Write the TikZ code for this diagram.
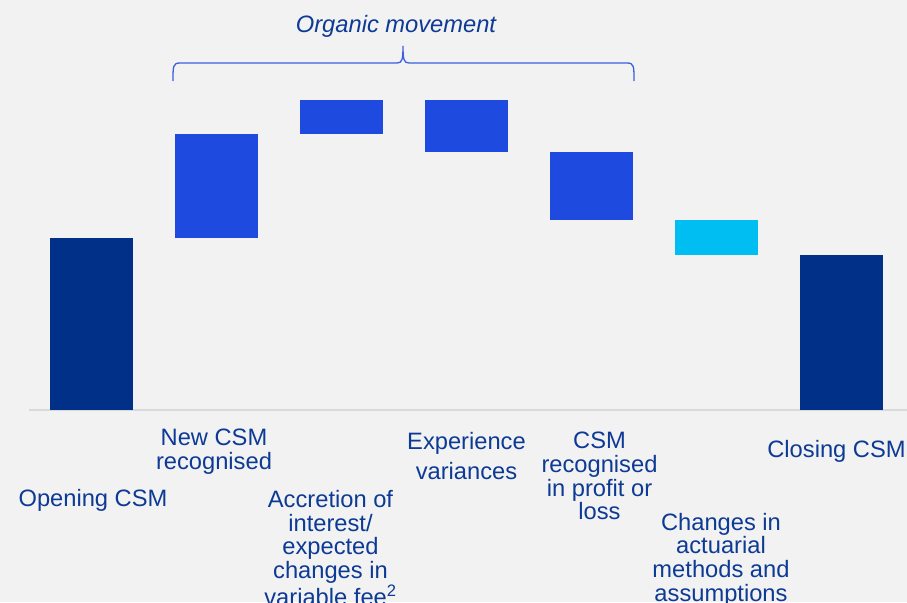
\documentclass[tikz,border=0pt]{standalone}
\usepackage{fontspec}
\setmainfont{Liberation Sans}
\definecolor{csmnavy}{HTML}{003087}
\definecolor{csmblue}{HTML}{1F4AE0}
\definecolor{csmcyan}{HTML}{00BEF2}
\definecolor{csmtext}{HTML}{0D3A94}
\definecolor{csmback}{HTML}{F2F2F2}
\definecolor{csmaxis}{HTML}{D9D9D9}
\definecolor{csmbrace}{HTML}{3A5FE0}
\tikzset{
    bar/.style={anchor=north west, minimum width=83pt, inner sep=0pt, outer sep=0pt},
    lbl/.style={anchor=north, align=center, inner sep=0pt, text=csmtext, font=\fontsize{23.7}{23.8}\selectfont},
}
\begin{document}
\begin{tikzpicture}[x=1pt,y=-1pt]
    \fill[csmback] (0,0) rectangle (907,602);
    \useasboundingbox (0,0) rectangle (907,602);
    \clip (0,0) rectangle (907,602);
    \coordinate (axl) at (29,410);
    \coordinate (axr) at (907,410);
    \draw[csmaxis, line width=1.5pt] (axl) -- (axr);
    \node[bar, fill=csmnavy, minimum height=172pt] (open) at (50,238) {};
    \node[bar, fill=csmblue, minimum height=104pt] (newcsm) at (175,134) {};
    \node[bar, fill=csmblue, minimum height=34pt] (accr) at (300,100) {};
    \node[bar, fill=csmblue, minimum height=52pt] (exper) at (425,100) {};
    \node[bar, fill=csmblue, minimum height=68pt] (pnl) at (550,152) {};
    \node[bar, fill=csmcyan, minimum height=35pt] (actu) at (675,220) {};
    \node[bar, fill=csmnavy, minimum height=155pt] (close) at (800,255) {};
    \node[lbl] (lopen) at (93,489) {Opening CSM};
    \node[lbl] (lnew) at (214,429) {New CSM\\recognised};
    \node[lbl] (laccr) at (330.5,490) {Accretion of\\interest/\\expected\\changes in\\variable fee\textsuperscript{2}};
    \node[lbl, font=\fontsize{23.7}{30}\selectfont] (lexper) at (466.5,432) {Experience\\variances};
    \node[lbl] (lpnl) at (599.5,431.7) {CSM\\recognised\\in profit or\\loss};
    \node[lbl] (lactu) at (721,512.7) {Changes in\\actuarial\\methods and\\assumptions};
    \node[lbl] (lclose) at (836.5,440) {Closing CSM};
    \node[lbl, font=\fontsize{23.7}{23.8}\selectfont\itshape] (organic) at (396,15) {Organic movement};
    \draw[csmbrace, line width=1.3pt] (173,81) .. controls (173,66) and (173,63) .. (180,63) -- (397,63)
        .. controls (402,63) and (403,60) .. (403,46) .. controls (403,60) and (404,63) .. (409,63)
        -- (627,63) .. controls (634,63) and (634,66) .. (634,81);
\end{tikzpicture}
\end{document}
